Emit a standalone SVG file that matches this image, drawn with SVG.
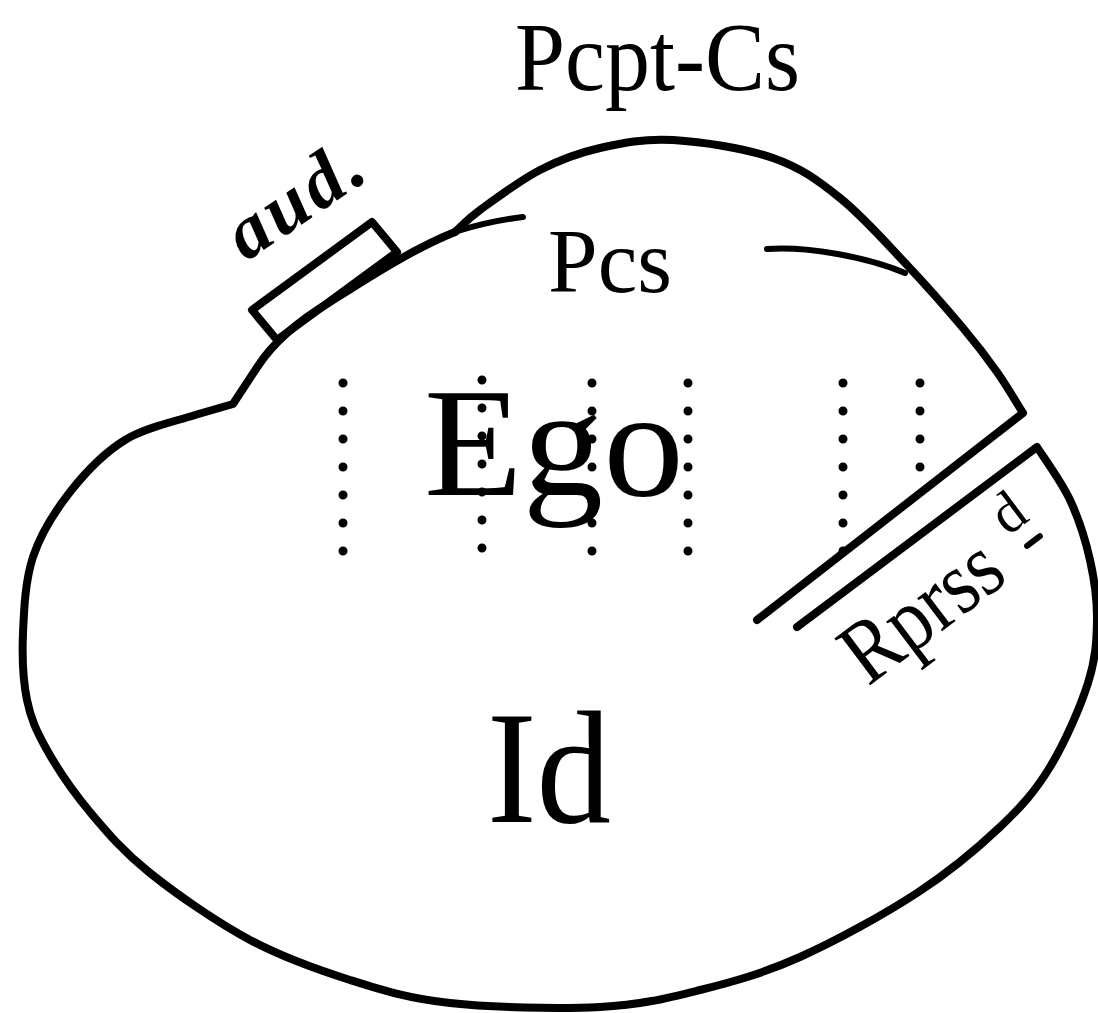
<svg xmlns="http://www.w3.org/2000/svg" width="1098" height="1013" viewBox="0 0 1098 1013">
<style>
.ln{fill:none;stroke:#000;stroke-width:8;stroke-linecap:round;stroke-linejoin:round}
.thin{fill:none;stroke:#000;stroke-width:6;stroke-linecap:round;stroke-linejoin:round}
.dots{fill:none;stroke:#000;stroke-width:9;stroke-linecap:round;stroke-dasharray:0 28}
.lbl{font-family:"Liberation Serif","DejaVu Serif",serif;fill:#000}
</style>
<rect width="1098" height="1013" fill="#fff"/>
<g id="connectors">
  <g id="outline">
    <path class="ln" d="M797,627 L1037,447 C1042.5,455.8 1061.2,481.2 1070,500 C1078.8,518.8 1085.5,540 1090,560 C1094.5,580 1097.3,599.5 1097,620 C1096.7,640.5 1095.8,658.5 1088,683 C1080.2,707.5 1064.7,743 1050,767 C1035.3,791 1022.2,806 1000,827 C977.8,848 950.3,871.3 917,893 C883.7,914.7 836.2,940.8 800,957 C763.8,973.2 733.3,981.7 700,990 C666.7,998.3 641.7,1004.8 600,1007 C558.3,1009.2 491.7,1007.5 450,1003 C408.3,998.5 383.3,990.5 350,980 C316.7,969.5 283.3,957.8 250,940 C216.7,922.2 176.7,894.3 150,873 C123.3,851.7 107.2,832.5 90,812 C72.8,791.5 57.5,768.7 47,750 C36.5,731.3 31,719.5 27,700 C23,680.5 22,656.8 23,633 C24,609.2 25.2,580.5 33,557 C40.8,533.5 54.7,511.5 70,492 C85.3,472.5 104.2,452.8 125,440 C145.8,427.2 177,421 195,415 C213,409.7 226.7,405.8 233,404 L258,366 C275,340 300,320 330,302 C360,283 410,250 455,232"/>
  </g>
  <g id="pcpt-cs-boundary">
    <path class="ln" d="M455,232 C459.2,228.3 465.8,220.3 480,210 C494.2,199.7 520,180.3 540,170 C560,159.7 577.8,153 600,148 C622.2,143 644.2,138.3 673,140 C701.8,141.7 745.2,148.3 773,158 C800.8,167.7 817.7,180.2 840,198 C862.3,215.8 886.5,243.3 907,265 C927.5,286.7 948,310.2 963,328 C978,345.8 987,357.8 997,372 C1007,386.2 1018.7,406.2 1023,413 L757,620"/>
  </g>
  <g id="pcs-boundary">
    <path class="thin" d="M458,231 Q490,221 523,217"/>
    <path class="thin" d="M767,249 C810,246 870,258 905,273"/>
  </g>
  <g id="ego-dots">
    <path class="dots" d="M343,383 V552"/>
    <path class="dots" d="M482,380 V549"/>
    <path class="dots" d="M592,383 V552"/>
    <path class="dots" d="M688,383 V552"/>
    <path class="dots" d="M843,383 V552"/>
    <path class="dots" d="M920,383 V495"/>
  </g>
</g>
<g id="aud">
  <polygon class="ln" points="252,310 372,222 397,252 277,340"/>
  <text class="lbl" transform="translate(246,262) rotate(-34)" font-size="76" font-style="italic" font-weight="bold" textLength="150" lengthAdjust="spacing">aud.</text>
</g>
<g id="pcpt-cs">
  <text class="lbl" x="515" y="90" font-size="98" textLength="285" lengthAdjust="spacingAndGlyphs">Pcpt-Cs</text>
</g>
<g id="pcs">
  <text class="lbl" x="548" y="292" font-size="90" textLength="124" lengthAdjust="spacingAndGlyphs">Pcs</text>
</g>
<g id="ego">
  <text class="lbl" x="424" y="495" font-size="155" textLength="260" lengthAdjust="spacingAndGlyphs">Ego</text>
</g>
<g id="id">
  <text class="lbl" x="487" y="822" font-size="160" textLength="124" lengthAdjust="spacingAndGlyphs">Id</text>
</g>
<g id="repressed">
  <g transform="translate(868,687) rotate(-37)">
    <text class="lbl" x="0" y="0" font-size="90" textLength="178" lengthAdjust="spacingAndGlyphs">Rprss</text>
    <text class="lbl" x="202" y="-36" font-size="58">d</text>
    <path class="thin" d="M212,-17 H228"/>
  </g>
</g>
</svg>
